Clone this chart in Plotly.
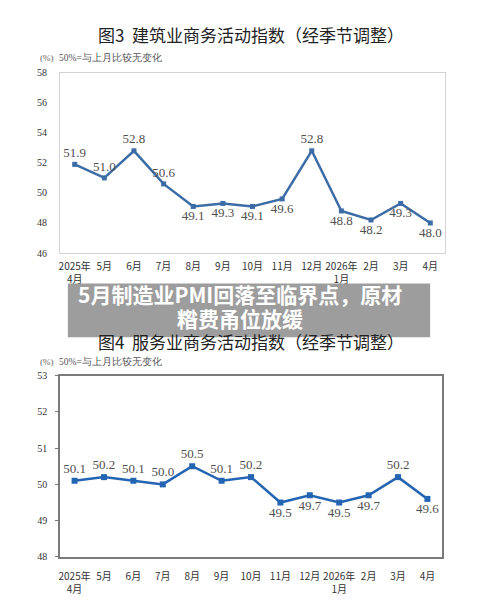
import plotly.graph_objects as go

months = ["2025年<br>4月", "5月", "6月", "7月", "8月", "9月", "10月", "11月", "12月",
          "2026年<br>1月", "2月", "3月", "4月"]
construction = [51.9, 51.0, 52.8, 50.6, 49.1, 49.3, 49.1, 49.6, 52.8, 48.8, 48.2, 49.3, 48.0]
construction_pos = ["top center", "top center", "top center", "top center", "bottom center",
                    "bottom center", "bottom center", "bottom center", "top center",
                    "bottom center", "bottom center", "bottom center", "bottom center"]
services = [50.1, 50.2, 50.1, 50.0, 50.5, 50.1, 50.2, 49.5, 49.7, 49.5, 49.7, 50.2, 49.6]
services_pos = ["top center"] * 7 + ["bottom center"] * 4 + ["top center", "bottom center"]

title3 = "图3  建筑业商务活动指数（经季节调整）"
title4 = "图4  服务业商务活动指数（经季节调整）"
note = "50%=与上月比较无变化"
banner1 = "5月制造业PMI回落至临界点，原材"
banner2 = "糌费甬位放缓"

W, H = 500, 609
def px(x): return x / W
def py(y): return 1 - y / H

dom1_x = [px(59), px(445)]
dom1_y = [py(252), py(68)]
dom2_x = [px(59), px(442)]
dom2_y = [py(562), py(377)]
r1 = [46, 58]
r2 = [48, 53]

serif = "Liberation Serif, Times New Roman, serif"
cjk = "Noto Sans CJK SC, sans-serif"

fig = go.Figure()
fig.add_trace(go.Scatter(
    x=months, y=construction, mode="lines+markers+text",
    text=[f"{v:.1f}" for v in construction], textposition=construction_pos,
    textfont=dict(family=serif, size=13, color="#505050"),
    line=dict(color="#3b6ca6", width=2.5),
    marker=dict(symbol="square", size=5, color="#3b6ca6"),
    xaxis="x", yaxis="y", cliponaxis=False, showlegend=False))
fig.add_trace(go.Scatter(
    x=months, y=services, mode="lines+markers+text",
    text=[f"{v:.1f}" for v in services], textposition=services_pos,
    textfont=dict(family=serif, size=13, color="#505050"),
    line=dict(color="#2365b2", width=2.5),
    marker=dict(symbol="square", size=6, color="#2365b2"),
    xaxis="x2", yaxis="y2", cliponaxis=False, showlegend=False))

n = len(months)
def level_pos(dom, rng, v=50):
    return dom[0] + (dom[1] - dom[0]) * (v - rng[0]) / (rng[1] - rng[0])

xcommon = dict(type="category", showgrid=False, zeroline=False, ticks="",
               tickangle=0,
               tickfont=dict(family=cjk, size=10, color="#333"),
               range=[-0.5, n - 0.5])

fig.update_layout(
    width=W, height=H, margin=dict(l=0, r=0, t=0, b=0),
    paper_bgcolor="white", plot_bgcolor="white",
    xaxis=dict(domain=dom1_x, anchor="y", showline=True, mirror=True,
               linecolor="#d3d3d3", linewidth=1, ticklabelstandoff=4, **xcommon),
    yaxis=dict(domain=dom1_y, anchor="x", range=r1, dtick=2, showgrid=False,
               zeroline=False, showline=True, mirror=True, linecolor="#d3d3d3",
               tickfont=dict(family=serif, size=10, color="#333"), ticks="",
               ticklabelstandoff=10),
    xaxis2=dict(domain=dom2_x, anchor="y2", showline=True, mirror=True,
                linecolor="#7a7a7a", linewidth=1.5, ticklabelstandoff=9, **xcommon),
    yaxis2=dict(domain=dom2_y, anchor="x2", range=r2, dtick=1, showgrid=False,
                zeroline=False, showline=True, mirror=True, linecolor="#7a7a7a",
                linewidth=1.5, ticks="outside", ticklen=3, tickcolor="#7a7a7a",
                tickfont=dict(family=serif, size=10, color="#333"),
                ticklabelstandoff=6),
    xaxis3=dict(domain=dom1_x, anchor="free", overlaying="x",
                position=level_pos(dom1_y, r1), range=[-0.5, n - 0.5],
                tickvals=[i + 0.5 for i in range(n - 1)], showticklabels=False,
                ticks="inside", ticklen=4, tickcolor="#b5b5b5",
                showline=True, linecolor="#b5b5b5", linewidth=1, showgrid=False,
                zeroline=False),
    xaxis4=dict(domain=dom2_x, anchor="free", overlaying="x2",
                position=level_pos(dom2_y, r2), range=[-0.5, n - 0.5],
                tickvals=[i + 0.5 for i in range(n - 1)], showticklabels=False,
                ticks="inside", ticklen=4, tickcolor="#6a6a6a",
                showline=True, linecolor="#6a6a6a", linewidth=1.2, showgrid=False,
                zeroline=False),
)

ann = [
    dict(text=title3, x=px(250), y=py(29), font=dict(family=cjk, size=17, color="#222")),
    dict(text=title4, x=px(250), y=py(342), font=dict(family=cjk, size=17, color="#222")),
    dict(text="(%)", x=px(46), y=py(53), font=dict(family=serif, size=9, color="#666")),
    dict(text=note, x=px(110), y=py(53), font=dict(family=serif, size=9.5, color="#555")),
    dict(text="(%)", x=px(46), y=py(363), font=dict(family=serif, size=9, color="#666")),
    dict(text=note, x=px(110), y=py(363), font=dict(family=serif, size=9.5, color="#555")),
    dict(text="<b>" + banner1 + "</b>", x=px(239), y=py(294),
         font=dict(family=cjk, size=21, color="white")),
    dict(text="<b>" + banner2 + "</b>", x=px(239), y=py(318),
         font=dict(family=cjk, size=21, color="white")),
]
for a in ann:
    a.update(xref="paper", yref="paper", showarrow=False, xanchor="center", yanchor="middle")
fig.update_layout(annotations=ann)

fig.add_shape(type="rect", xref="paper", yref="paper", x0=px(67), x1=px(430),
              y0=py(338), y1=py(283), fillcolor="rgba(135,135,135,0.82)",
              line=dict(width=0), layer="above")

fig.write_html("out.html", config={"displayModeBar": False},
               post_script="document.body.style.margin='0px';")
